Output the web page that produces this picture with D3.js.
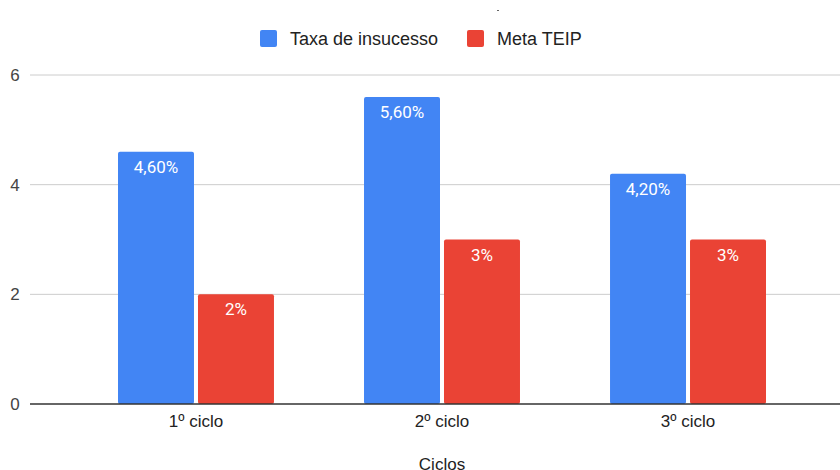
<!DOCTYPE html>
<html>
<head>
<meta charset="utf-8">
<script src="https://cdn.jsdelivr.net/npm/d3@7"></script>
<style>
  body { margin: 0; background: #fff; }
  svg { display: block; font-family: Arial, "Liberation Sans", sans-serif; }
</style>
</head>
<body>
<svg id="chart" width="840" height="470"></svg>
<script>
'use strict';

// chart data
const categories = ['1º ciclo', '2º ciclo', '3º ciclo'];
const seriesNames = ['Taxa de insucesso', 'Meta TEIP'];
const taxaInsucesso = [4.6, 5.6, 4.2];
const metaTeip = [2, 3, 3];
const valueLabels = [['4,60%', '5,60%', '4,20%'], ['2%', '3%', '3%']];
const yTicks = [0, 2, 4, 6];
const colors = ['#4285f4', '#ea4335'];

(function() {
  const width = 840;
  const height = 470;
  const margin = {top: 75, right: 0, bottom: 66, left: 30};

  const svg = d3.select('#chart');

  const x = d3.scaleBand()
              .domain(categories)
              .range([118, 766])
              .paddingInner(0.366)
              .paddingOuter(0);

  const xInner = d3.scaleBand()
              .domain(seriesNames)
              .range([0, x.bandwidth()])
              .paddingInner(0.05);

  const y = d3.scaleLinear()
              .domain([0, 6])
              .range([height - margin.bottom, margin.top]);

  // gridlines
  svg.append('g')
      .selectAll('line')
      .data(yTicks.filter(d => d !== 0))
      .join('line')
        .attr('x1', margin.left)
        .attr('x2', width)
        .attr('y1', d => y(d))
        .attr('y2', d => y(d))
        .attr('stroke', '#cccccc')
        .attr('stroke-width', 1);

  // y tick labels
  svg.append('g')
      .selectAll('text')
      .data(yTicks)
      .join('text')
        .attr('x', 15)
        .attr('y', d => y(d) + 6)
        .attr('text-anchor', 'middle')
        .attr('font-size', 17)
        .attr('fill', '#444')
        .text(d => d);

  // bars
  const rows = categories.map((c, i) => ({cat: c, vals: [taxaInsucesso[i], metaTeip[i]], idx: i}));

  const groups = svg.append('g')
      .selectAll('g')
      .data(rows)
      .join('g')
        .attr('transform', d => `translate(${x(d.cat)},0)`);

  groups.selectAll('rect')
      .data(d => d.vals.map((v, s) => ({v: v, s: s})))
      .join('rect')
        .attr('x', d => xInner(seriesNames[d.s]))
        .attr('y', d => y(d.v))
        .attr('width', xInner.bandwidth())
        .attr('height', d => y(0) - y(d.v))
        .attr('rx', 2)
        .attr('fill', d => colors[d.s]);

  groups.selectAll('text')
      .data(d => d.vals.map((v, s) => ({v: v, s: s, label: valueLabels[s][d.idx]})))
      .join('text')
        .attr('x', d => xInner(seriesNames[d.s]) + xInner.bandwidth() / 2)
        .attr('y', d => y(d.v) + 21)
        .attr('text-anchor', 'middle')
        .attr('font-family', 'Roboto, Arial, sans-serif')
        .attr('font-size', 17)
        .attr('fill', '#fff')
        .text(d => d.label);

  // baseline
  svg.append('line')
      .attr('x1', margin.left)
      .attr('x2', width)
      .attr('y1', y(0))
      .attr('y2', y(0))
      .attr('stroke', '#333')
      .attr('stroke-width', 1.5);

  // x labels
  svg.append('g')
      .selectAll('text')
      .data(categories)
      .join('text')
        .attr('x', d => x(d) + x.bandwidth() / 2)
        .attr('y', y(0) + 23)
        .attr('text-anchor', 'middle')
        .attr('font-size', 17)
        .attr('fill', '#222')
        .text(d => d);

  // x axis title (cut off at the bottom edge, as in the source)
  svg.append('text')
      .attr('x', x(categories[1]) + x.bandwidth() / 2)
      .attr('y', 470)
      .attr('text-anchor', 'middle')
      .attr('font-size', 17)
      .attr('fill', '#222')
      .text('Ciclos');

  // legend
  const legend = svg.append('g');
  const legendX = [260, 467];
  seriesNames.forEach((name, i) => {
    legend.append('rect')
        .attr('x', legendX[i])
        .attr('y', 30)
        .attr('width', 17)
        .attr('height', 17)
        .attr('rx', 2)
        .attr('fill', colors[i]);
    legend.append('text')
        .attr('x', legendX[i] + 30)
        .attr('y', 45)
        .attr('font-size', 18)
        .attr('fill', '#222')
        .text(name);
  });

  // tiny mark at the top (cut-off title remnant)
  svg.append('rect')
      .attr('x', 497)
      .attr('y', 10)
      .attr('width', 2)
      .attr('height', 1)
      .attr('fill', '#666');
})();
</script>
</body>
</html>
